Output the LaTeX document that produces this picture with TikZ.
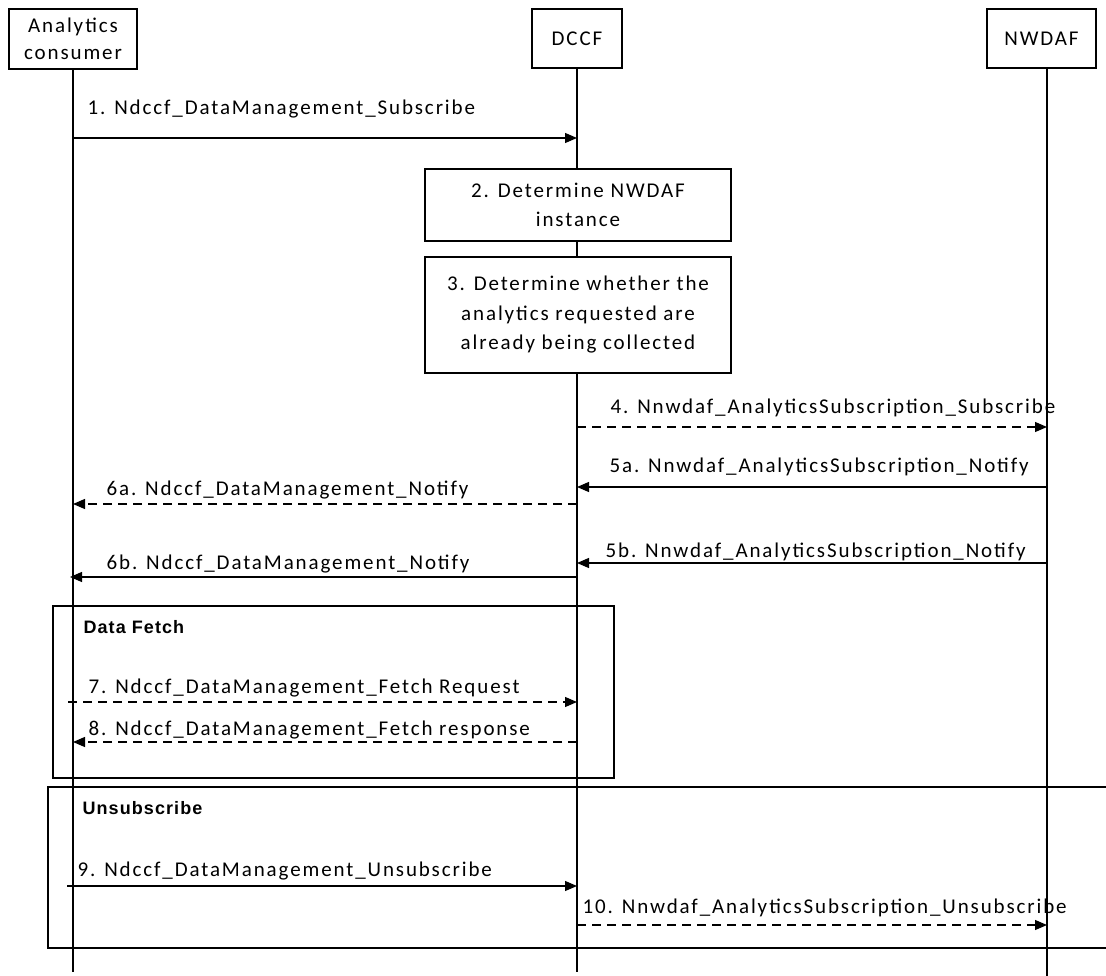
\documentclass[tikz,border=0pt]{standalone}
\usepackage{fontspec}
\setmainfont{Carlito}[LetterSpace=9]
\newfontfamily\boldfont{Liberation Sans}[LetterSpace=6]
\usetikzlibrary{arrows.meta}
\tikzset{
  every picture/.style={line width=1.2pt},
  hdr/.style={draw, line width=1.2pt, align=center, inner sep=0pt,
    font=\fontsize{21}{27}\selectfont},
  procbox/.style={draw, line width=1.2pt, align=center, inner sep=0pt,
    minimum width=306, font=\fontsize{21}{29.5}\selectfont},
  life/.style={line width=1.2pt},
  msg/.style={-{Triangle[length=12pt,width=10pt]}, line width=1.2pt},
  rsp/.style={msg, dash pattern=on 9pt off 6pt},
  lbl/.style={anchor=base west, inner sep=0pt, font=\fontsize{21}{25}\selectfont},
  grp/.style={line width=1.2pt},
  grplbl/.style={anchor=base west, inner sep=0pt, font=\boldfont\bfseries\fontsize{18}{22}\selectfont}
}
\begin{document}
\begin{tikzpicture}[x=1pt,y=-1pt]
\useasboundingbox (0,0) rectangle (1106,976);

% headers
\node[hdr, minimum width=128, minimum height=60] (ac) at (73,39) {Analytics\\consumer};
\node[hdr, minimum width=90, minimum height=59] (dccf) at (577,38.5) {DCCF};
\node[hdr, minimum width=109, minimum height=59] (nw) at (1041.5,38.5) {NWDAF};

% lifeline ends
\coordinate (acl) at (73,972);
\coordinate (dcl) at (577,972);
\coordinate (nwl) at (1047,976);

% process boxes
\node[procbox, minimum height=72] (p2) at (578,205) {2. Determine NWDAF\\instance};
\node[procbox, minimum height=116] (p3) at (578,315) {3. Determine whether the\\analytics requested are\\already being collected};

% lifelines
\draw[life] (ac.south) -- (acl);
\draw[life] (dccf.south) -- (p2.north -| dccf.south);
\draw[life] (p2.south -| dccf.south) -- (p3.north -| dccf.south);
\draw[life] (p3.south -| dccf.south) -- (dcl);
\draw[life] (nwl |- nw.south) -- (nwl);

% message y-levels
\coordinate (m1) at (0,138);
\coordinate (m4) at (0,427);
\coordinate (m5a) at (0,487);
\coordinate (m6a) at (0,504);
\coordinate (m5b) at (0,563);
\coordinate (m6b) at (0,577);
\coordinate (m7) at (0,702);
\coordinate (m8) at (0,742);
\coordinate (m9) at (0,886);
\coordinate (m10) at (0,925);

% messages
\draw[msg] (acl |- m1) -- (dcl |- m1);
\node[lbl] (l1) at (87,115) {1. Ndccf\_DataManagement\_Subscribe};

\draw[rsp] (dcl |- m4) -- (nwl |- m4);
\node[lbl] (l4) at (610,413) {4. Nnwdaf\_AnalyticsSubscription\_Subscribe};

\draw[msg] (nwl |- m5a) -- (dcl |- m5a);
\node[lbl] (l5a) at (609,472) {5a. Nnwdaf\_AnalyticsSubscription\_Notify};

\draw[rsp] (dcl |- m6a) -- (acl |- m6a);
\node[lbl] (l6a) at (106,495) {6a. Ndccf\_DataManagement\_Notify};

\draw[msg] (nwl |- m5b) -- (dcl |- m5b);
\node[lbl] (l5b) at (605,557) {5b. Nnwdaf\_AnalyticsSubscription\_Notify};

\draw[msg] (dcl |- m6b) -- ([xshift=-3pt]acl |- m6b);
\node[lbl] (l6b) at (106,569) {6b. Ndccf\_DataManagement\_Notify};

% Data Fetch group
\draw[grp] (53,606) rectangle (614,778);
\node[grplbl] (gdf) at (83,633) {Data Fetch};

\draw[rsp] ([xshift=-5pt]acl |- m7) -- (dcl |- m7);
\node[lbl] (l7) at (88,693) {7. Ndccf\_DataManagement\_Fetch Request};

\draw[rsp] (dcl |- m8) -- (acl |- m8);
\node[lbl] (l8) at (88,735) {8. Ndccf\_DataManagement\_Fetch response};

% Unsubscribe group
\draw[grp] (1110,787) -- (48,787) -- (48,948) -- (1110,948);
\node[grplbl] (gun) at (82,814) {Unsubscribe};

\draw[msg] ([xshift=-6pt]acl |- m9) -- (dcl |- m9);
\node[lbl] (l9) at (77,876) {9. Ndccf\_DataManagement\_Unsubscribe};

\draw[rsp] (dcl |- m10) -- (nwl |- m10);
\node[lbl] (l10) at (582,913) {10. Nnwdaf\_AnalyticsSubscription\_Unsubscribe};
\end{tikzpicture}
\end{document}
